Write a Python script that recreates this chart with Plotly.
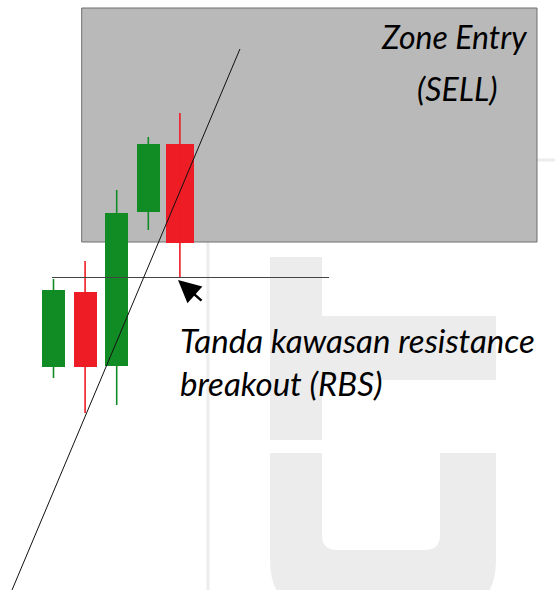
import plotly.graph_objects as go

W, H = 555, 590

# ---- data ----
candles = [1, 2, 3, 4, 5]
opens = [22.3, 29.8, 22.4, 37.8, 44.6]
highs = [31.1, 32.9, 40.0, 45.3, 47.7]
lows = [21.2, 17.7, 18.5, 36.0, 31.2]
closes = [30.0, 22.3, 37.7, 44.6, 34.7]
body_widths = [0.73, 0.73, 0.73, 0.73, 0.88]

zone_x = [1.892, 16.30]
zone_y = [34.8, 58.2]
resistance_level = 31.25
resistance_x = [0.95, 9.72]
trend_x = [-0.313, 6.90]
trend_y = [0.0, 54.1]
arrow_point = (4.94, 31.0)

label_lines = ["Tanda kawasan resistance", "breakout (RBS)"]
zone_lines = ["Zone Entry", "(SELL)"]

GREEN = "#118c25"
RED = "#ee1c24"
WM = "rgba(209,209,209,0.42)"
FONT = "Lato, Open Sans, sans-serif"

fig = go.Figure()

# wicks
for col in (GREEN, RED):
    xs, ys = [], []
    for x, o, h, l, c in zip(candles, opens, highs, lows, closes):
        if (c >= o) == (col == GREEN):
            xs += [x, x, None]
            ys += [l, h, None]
    fig.add_trace(go.Scatter(x=xs, y=ys, mode="lines",
                             line=dict(color=col, width=1.6),
                             hoverinfo="skip", showlegend=False))

# bodies
fig.add_trace(go.Bar(
    x=candles,
    base=[min(o, c) for o, c in zip(opens, closes)],
    y=[abs(c - o) for o, c in zip(opens, closes)],
    width=body_widths,
    marker=dict(color=[GREEN if c >= o else RED for o, c in zip(opens, closes)],
                line=dict(width=0)),
    showlegend=False, hoverinfo="skip"))

# resistance line
fig.add_trace(go.Scatter(x=resistance_x, y=[resistance_level] * 2, mode="lines",
                         line=dict(color="#444444", width=1.2),
                         hoverinfo="skip", showlegend=False))
# trend line
fig.add_trace(go.Scatter(x=trend_x, y=trend_y, mode="lines",
                         line=dict(color="#111111", width=1),
                         hoverinfo="skip", showlegend=False))


def P(x, y):
    return f"{x / W:.5f},{1 - y / H:.5f}"


shapes = [
    dict(type="rect", xref="x", yref="y", x0=zone_x[0], x1=zone_x[1],
         y0=zone_y[0], y1=zone_y[1], fillcolor="#b9b9b9",
         line=dict(color="#6e6e6e", width=1), layer="below"),
    # watermark rounded frame
    dict(type="path", xref="paper", yref="paper", layer="below",
         path=f"M{P(208,620)} L{P(208,178)} Q{P(208,160)} {P(226,160)} "
              f"L{P(554,160)} Q{P(572,160)} {P(572,178)} L{P(572,620)}",
         line=dict(color=WM, width=3)),
    # watermark upper stem
    dict(type="path", xref="paper", yref="paper", layer="below",
         path=f"M{P(270,257)} L{P(322,257)} L{P(322,316)} L{P(496,316)} "
              f"L{P(496,380)} L{P(322,380)} L{P(322,440)} L{P(270,440)} Z",
         fillcolor=WM, line=dict(width=0)),
    # watermark lower U
    dict(type="path", xref="paper", yref="paper", layer="below",
         path=f"M{P(270,453)} L{P(322,453)} L{P(322,535)} Q{P(322,550)} {P(337,550)} "
              f"L{P(425,550)} Q{P(440,550)} {P(440,535)} L{P(440,453)} L{P(496,453)} "
              f"L{P(496,560)} Q{P(496,612)} {P(444,612)} L{P(322,612)} "
              f"Q{P(270,612)} {P(270,560)} Z",
         fillcolor=WM, line=dict(width=0)),
]

annotations = [
    dict(x=arrow_point[0], y=arrow_point[1], xref="x", yref="y",
         ax=25, ay=22, showarrow=True, arrowhead=2, arrowsize=1.8,
         arrowwidth=2.5, arrowcolor="#000000", text="", standoff=0),
    dict(x=178 / W, y=1 - 361 / H, xref="paper", yref="paper",
         xanchor="left", yanchor="middle", align="left", showarrow=False,
         text="<br>".join(f"<i>{t}</i>" for t in label_lines),
         font=dict(family=FONT, size=33, color="#000000")),
]
for txt, xc, yc in zip(zone_lines, [454, 457], [36, 89]):
    annotations.append(dict(
        x=xc / W, y=1 - yc / H, xref="paper", yref="paper",
        xanchor="center", yanchor="middle", showarrow=False,
        text=f"<i>{txt}</i>", font=dict(family=FONT, size=32, color="#000000")))

fig.update_layout(
    width=W, height=H, autosize=False,
    margin=dict(l=0, r=0, t=0, b=0),
    paper_bgcolor="white", plot_bgcolor="white",
    xaxis=dict(range=[-0.693, 16.87], visible=False, fixedrange=True),
    yaxis=dict(range=[0, 59], visible=False, fixedrange=True),
    shapes=shapes, annotations=annotations,
    bargap=0,
)

fig.write_html("out.html", config={"displayModeBar": False},
               post_script="document.body.style.margin='0';")
